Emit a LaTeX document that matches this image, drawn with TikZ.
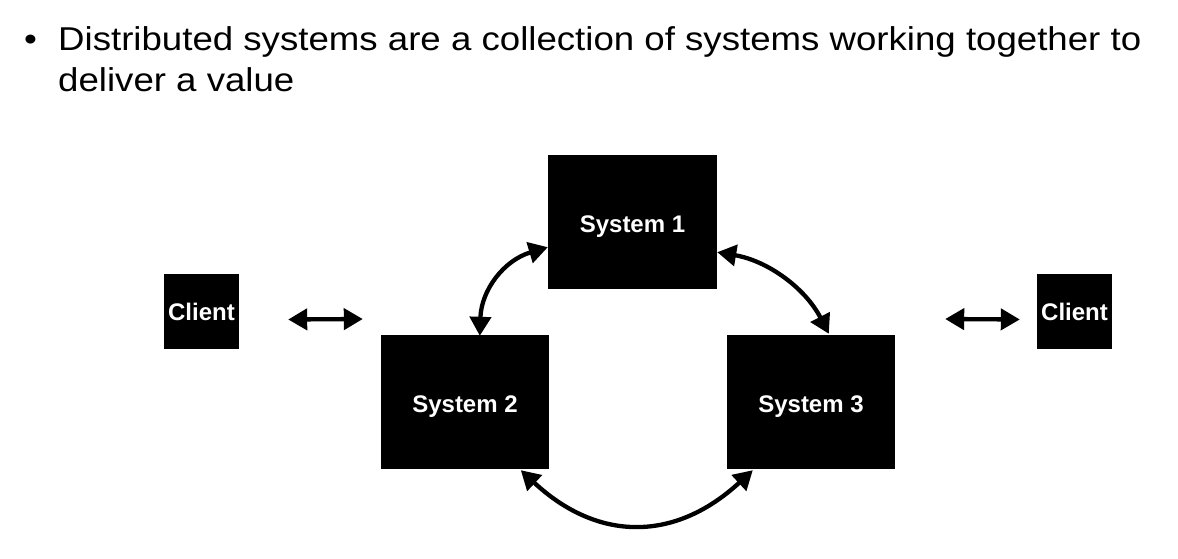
\documentclass[tikz,border=0pt]{standalone}
\usepackage{fontspec}
\setmainfont{Liberation Sans}
\newfontfamily\bodyfont[FakeStretch=1.11]{Liberation Sans}
\usetikzlibrary{arrows.meta,calc}
\tikzset{
  sysbox/.style={fill=black, draw=none, inner sep=0pt, text=white, text height=21pt, text depth=0pt, font=\fontsize{24}{28}\selectfont\bfseries},
  clientbox/.style={sysbox, text height=17.5pt, minimum width=75pt, minimum height=75pt},
  conn/.style={line width=4.3pt, {Triangle[length=19pt,width=21pt]}-{Triangle[length=19pt,width=21pt]}},
  body/.style={anchor=base west, inner sep=0pt, font=\bodyfont\fontsize{33}{40}\selectfont}
}
\begin{document}
\begin{tikzpicture}[x=1pt,y=-1pt]
\useasboundingbox (0,0) rectangle (1178,559);
% text
\node[body] (bul) at (24,51) {•};
\node[body] (l1) at (58,51) {Distributed systems are a collection of systems working together to};
\node[body] (l2) at (58,92) {deliver a value};
% boxes
\node[sysbox, minimum width=169pt, minimum height=134pt] (s1) at (632.5,222) {System 1};
\node[sysbox, minimum width=168pt, minimum height=134pt] (s2) at (465,402) {System 2};
\node[sysbox, minimum width=168pt, minimum height=134pt] (s3) at (811,402) {System 3};
\node[clientbox] (c1) at (201.5,311.5) {Client};
\node[clientbox] (c2) at (1074.5,311.5) {Client};
% connectors
\draw[conn] ($(c1.east)+(49,8)$) -- ($(s2.west)+(-18,-83)$);
\draw[conn] ($(s3.east)+(50,-83)$) -- ($(c2.west)+(-17,8)$);
\draw[conn] ($(s2.north west)+(99,1)$) .. controls (481.3,289.9) and (503.9,260.3) .. ($(s1.south west)+(0,-42)$);
\draw[conn] ($(s1.south east)+(0,-37)$) .. controls (767.9,260.8) and (805.3,288.2) .. ($(s3.north west)+(102,-1)$);
\draw[conn] ($(s2.south west)+(140,1)$) .. controls (598,542) and (675,542) .. ($(s3.south west)+(26,1)$);
\end{tikzpicture}
\end{document}
